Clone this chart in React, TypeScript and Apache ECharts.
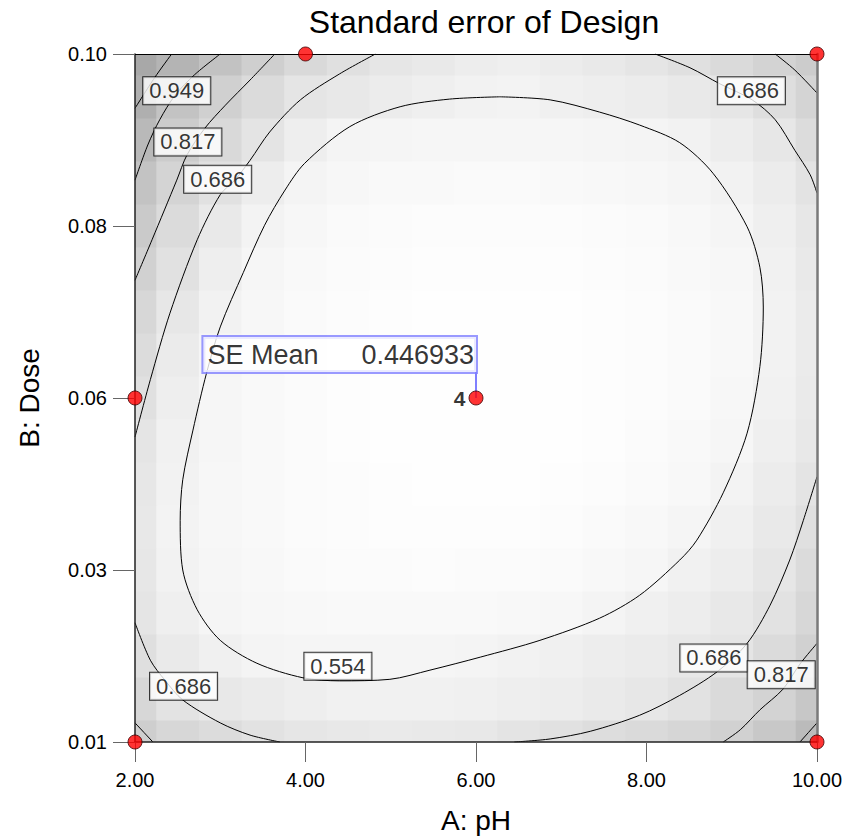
import { useEffect, useRef } from "react";
import * as echarts from "echarts";

// Factor ranges and axis tick labels
const PH_MIN = 2;
const PH_MAX = 10;
const DOSE_LOW = 0.01;
const DOSE_HIGH = 0.1;
const DOSE_TICK_LABELS = ["0.01", "0.03", "0.06", "0.08", "0.10"];

// Design runs [pH, dose]
const DESIGN_POINTS = [
  [2, 0.01],
  [4, 0.1],
  [10, 0.1],
  [2, 0.055],
  [6, 0.055],
  [10, 0.01],
];
const CENTER_POINT = [6, 0.055];
const CENTER_REPLICATES = 4;
const SE_MEAN_AT_CENTER = 0.446933;
const SE_FLAG_TOP_DOSE = 0.0584;

// Standard error sampled on a grid (rows: top dose -> bottom dose, cols: pH 2 -> 10)
const GRID_PH = [2, 2.5, 3, 3.5, 4, 4.5, 5, 5.5, 6, 6.5, 7, 7.5, 8, 8.5, 9, 9.5, 10];
const GRID_CODED_DOSE = [1, 0.875, 0.75, 0.625, 0.5, 0.375, 0.25, 0.125, 0, -0.125, -0.25, -0.375, -0.5, -0.625, -0.75, -0.875, -1];
const SE_GRID = [
  [1.18, 1.065, 0.949, 0.847, 0.777, 0.721, 0.676, 0.65, 0.624, 0.6, 0.628, 0.655, 0.681, 0.723, 0.77, 0.817, 0.87],
  [1.11, 0.941, 0.846, 0.762, 0.685, 0.657, 0.628, 0.599, 0.57, 0.556, 0.587, 0.61, 0.633, 0.655, 0.678, 0.738, 0.81],
  [1.022, 0.872, 0.772, 0.689, 0.608, 0.548, 0.54, 0.535, 0.53, 0.53, 0.533, 0.538, 0.546, 0.572, 0.621, 0.67, 0.755],
  [0.945, 0.813, 0.713, 0.616, 0.548, 0.52, 0.505, 0.497, 0.495, 0.495, 0.5, 0.51, 0.525, 0.542, 0.572, 0.631, 0.699],
  [0.888, 0.761, 0.651, 0.558, 0.52, 0.495, 0.48, 0.472, 0.47, 0.47, 0.474, 0.482, 0.495, 0.515, 0.54, 0.6, 0.67],
  [0.832, 0.71, 0.609, 0.535, 0.505, 0.482, 0.468, 0.46, 0.457, 0.457, 0.46, 0.467, 0.48, 0.497, 0.522, 0.578, 0.65],
  [0.79, 0.669, 0.568, 0.52, 0.495, 0.475, 0.462, 0.454, 0.45, 0.45, 0.453, 0.46, 0.472, 0.49, 0.515, 0.572, 0.638],
  [0.754, 0.637, 0.545, 0.508, 0.485, 0.468, 0.457, 0.45, 0.447, 0.448, 0.451, 0.458, 0.47, 0.488, 0.515, 0.574, 0.636],
  [0.719, 0.609, 0.535, 0.5, 0.478, 0.463, 0.453, 0.448, 0.447, 0.448, 0.452, 0.46, 0.472, 0.492, 0.525, 0.584, 0.645],
  [0.684, 0.585, 0.528, 0.497, 0.477, 0.463, 0.454, 0.449, 0.448, 0.45, 0.455, 0.464, 0.478, 0.5, 0.535, 0.6, 0.663],
  [0.67, 0.566, 0.525, 0.498, 0.48, 0.466, 0.458, 0.453, 0.452, 0.455, 0.461, 0.472, 0.49, 0.515, 0.562, 0.627, 0.69],
  [0.66, 0.56, 0.525, 0.5, 0.484, 0.472, 0.465, 0.461, 0.461, 0.465, 0.473, 0.487, 0.508, 0.538, 0.592, 0.65, 0.725],
  [0.668, 0.567, 0.53, 0.508, 0.493, 0.483, 0.477, 0.475, 0.476, 0.481, 0.492, 0.51, 0.535, 0.577, 0.625, 0.673, 0.759],
  [0.68, 0.597, 0.545, 0.525, 0.513, 0.505, 0.5, 0.499, 0.501, 0.507, 0.518, 0.55, 0.586, 0.622, 0.658, 0.705, 0.793],
  [0.729, 0.646, 0.588, 0.55, 0.544, 0.541, 0.541, 0.545, 0.552, 0.572, 0.595, 0.618, 0.64, 0.663, 0.685, 0.759, 0.838],
  [0.786, 0.696, 0.662, 0.64, 0.615, 0.585, 0.58, 0.585, 0.595, 0.608, 0.625, 0.645, 0.668, 0.708, 0.764, 0.82, 0.909],
  [0.86, 0.792, 0.748, 0.704, 0.677, 0.66, 0.646, 0.65, 0.662, 0.69, 0.716, 0.742, 0.769, 0.796, 0.832, 0.905, 1.0],
];

// Contour paths, [pH, dose]
const CONTOUR_0554 = [
  [6.28, 0.0944], [6.87, 0.094], [7.45, 0.0924], [7.92, 0.0907], [8.39, 0.0884], [8.78, 0.0844],
  [9.18, 0.0774], [9.33, 0.0721], [9.37, 0.0669], [9.33, 0.0591], [9.18, 0.0504], [8.9, 0.0426],
  [8.59, 0.0364], [8.39, 0.0338], [7.92, 0.0292], [7.45, 0.0262], [6.75, 0.0233], [6.05, 0.0211],
  [5.46, 0.0194], [4.99, 0.0182], [4.4, 0.018], [3.97, 0.0184], [3.43, 0.0203], [3.0, 0.0233],
  [2.73, 0.0273], [2.56, 0.0325], [2.53, 0.039], [2.56, 0.0443], [2.68, 0.0508], [2.84, 0.0583],
  [3.0, 0.0643], [3.27, 0.0714], [3.52, 0.0776], [3.76, 0.0822], [3.99, 0.0857], [4.52, 0.0905],
  [5.11, 0.0931], [5.69, 0.0941], [6.28, 0.0944],
];
const CONTOUR_0686_TOP_LEFT = [
  [4.82, 0.1], [4.4, 0.0974], [3.94, 0.094], [3.58, 0.0898], [3.35, 0.0861], [3.17, 0.0835],
  [3.0, 0.0816], [2.73, 0.0757], [2.41, 0.0661], [2.18, 0.0574], [2.0, 0.0499],
];
const CONTOUR_0686_TOP_RIGHT = [
  [8.1, 0.1], [8.51, 0.0982], [8.86, 0.0961], [9.24, 0.094], [9.51, 0.0914], [9.74, 0.0874],
  [9.92, 0.0842], [10.0, 0.0818],
];
const CONTOUR_0686_BOTTOM_RIGHT = [
  [10.0, 0.0447], [9.84, 0.039], [9.68, 0.0338], [9.45, 0.0279], [9.18, 0.0229], [8.83, 0.0192],
  [8.39, 0.0161], [7.92, 0.0135], [7.34, 0.0114], [6.87, 0.0104], [6.45, 0.01],
];
const CONTOUR_0686_BOTTOM_LEFT = [
  [2.0, 0.0256], [2.18, 0.0207], [2.35, 0.0181], [2.56, 0.0155], [3.0, 0.0125], [3.35, 0.0109], [3.7, 0.01],
];
const CONTOUR_0817_TOP_LEFT = [
  [3.64, 0.1], [3.35, 0.0966], [3.06, 0.0933], [2.82, 0.0903], [2.61, 0.0868], [2.49, 0.0835],
  [2.2, 0.0757], [2.0, 0.0704],
];
const CONTOUR_0817_TOP_RIGHT = [[9.51, 0.1], [9.74, 0.0979], [10.0, 0.0949]];
const CONTOUR_0817_BOTTOM_RIGHT = [
  [10.0, 0.0229], [9.8, 0.0202], [9.6, 0.0169], [9.33, 0.0142], [9.1, 0.0116], [8.9, 0.01],
];
const CONTOUR_0817_BOTTOM_LEFT = [[2.0, 0.0125], [2.21, 0.01]];
const CONTOUR_0949_TOP_LEFT = [
  [3.0, 0.1], [2.7, 0.0973], [2.47, 0.0946], [2.29, 0.0914], [2.15, 0.0881], [2.0, 0.0835],
];
const CONTOUR_0949_BOTTOM_RIGHT = [[10.0, 0.0125], [9.8, 0.01]];
const CONTOUR_1080_TOP_LEFT = [[2.43, 0.1], [2.23, 0.0969], [2.0, 0.0929]];

const CONTOUR_PATHS = [
  CONTOUR_0554,
  CONTOUR_0686_TOP_LEFT,
  CONTOUR_0686_TOP_RIGHT,
  CONTOUR_0686_BOTTOM_RIGHT,
  CONTOUR_0686_BOTTOM_LEFT,
  CONTOUR_0817_TOP_LEFT,
  CONTOUR_0817_TOP_RIGHT,
  CONTOUR_0817_BOTTOM_RIGHT,
  CONTOUR_0817_BOTTOM_LEFT,
  CONTOUR_0949_TOP_LEFT,
  CONTOUR_0949_BOTTOM_RIGHT,
  CONTOUR_1080_TOP_LEFT,
];

// Contour level labels, [pH, dose, text]
const CONTOUR_LABELS: [number, number, string][] = [
  [2.49, 0.0952, "0.949"],
  [2.62, 0.0885, "0.817"],
  [2.97, 0.0836, "0.686"],
  [9.23, 0.0952, "0.686"],
  [2.57, 0.0173, "0.686"],
  [4.38, 0.0199, "0.554"],
  [8.79, 0.021, "0.686"],
  [9.58, 0.0188, "0.817"],
];

const FONT = "'Liberation Sans', Arial, Helvetica, sans-serif";

const toCoded = (d: number) =>
  (d - (DOSE_LOW + DOSE_HIGH) / 2) / ((DOSE_HIGH - DOSE_LOW) / 2);

export default function App() {
  const ref = useRef<HTMLDivElement>(null);

  useEffect(() => {
    if (!ref.current) return;
    const chart = echarts.init(ref.current, undefined, { renderer: "svg" });

    const bgData: number[][] = [];
    SE_GRID.forEach((row, r) =>
      row.forEach((se, c) => bgData.push([GRID_PH[c], GRID_CODED_DOSE[r], se]))
    );

    const contourSeries = CONTOUR_PATHS.map((path) => ({
      type: "line",
      data: path.map(([p, d]) => [p, toCoded(d)]),
      symbol: "none",
      smooth: 0.3,
      silent: true,
      clip: true,
      z: 3,
      lineStyle: { color: "#000", width: 1 },
    }));

    const option: any = {
      animation: false,
      textStyle: { fontFamily: FONT },
      grid: { left: 135, top: 54, right: 39, bottom: 97 },
      visualMap: {
        show: false,
        type: "continuous",
        seriesIndex: 0,
        dimension: 2,
        min: 0.44,
        max: 1.2,
        inRange: { color: ["#ffffff", "#ececec", "#d3d3d3", "#bababa", "#a6a6a6"] },
      },
      graphic: [
        {
          type: "text",
          x: 484,
          y: 22,
          style: {
            text: "Standard error of Design",
            font: `32px ${FONT}`,
            fill: "#000",
            align: "center",
            verticalAlign: "middle",
          },
        },
      ],
      xAxis: [
        {
          type: "value",
          min: PH_MIN,
          max: PH_MAX,
          interval: 2,
          z: 5,
          name: "A: pH",
          nameLocation: "middle",
          nameGap: 64,
          nameTextStyle: { fontSize: 28, color: "#000", fontFamily: FONT },
          axisLine: { show: true, onZero: false, lineStyle: { color: "#222", width: 1.5 } },
          axisTick: { show: true, length: 20, lineStyle: { color: "#666" } },
          axisLabel: {
            fontSize: 20,
            color: "#000",
            margin: 28,
            formatter: (v: number) => v.toFixed(2),
          },
          splitLine: { show: false },
        },
        {
          type: "value",
          position: "top",
          min: PH_MIN,
          max: PH_MAX,
          z: 5,
          axisLine: { show: true, onZero: false, lineStyle: { color: "#000", width: 1 } },
          axisTick: { show: false },
          axisLabel: { show: false },
          splitLine: { show: false },
        },
      ],
      yAxis: [
        {
          type: "value",
          min: -1,
          max: 1,
          interval: 0.5,
          z: 5,
          name: "B: Dose",
          nameLocation: "middle",
          nameGap: 92,
          nameTextStyle: { fontSize: 28, color: "#000", fontFamily: FONT },
          axisLine: { show: true, onZero: false, lineStyle: { color: "#222", width: 1.5 } },
          axisTick: { show: true, length: 22, lineStyle: { color: "#666" } },
          axisLabel: {
            fontSize: 20,
            color: "#000",
            margin: 28,
            formatter: (v: number) => DOSE_TICK_LABELS[Math.round((v + 1) / 0.5)] ?? "",
          },
          splitLine: { show: false },
        },
        {
          type: "value",
          position: "right",
          min: -1,
          max: 1,
          z: 5,
          axisLine: { show: true, onZero: false, lineStyle: { color: "#7a7a7a", width: 2.5 } },
          axisTick: { show: false },
          axisLabel: { show: false },
          splitLine: { show: false },
        },
      ],
      series: [
        {
          type: "custom",
          data: bgData,
          clip: true,
          silent: true,
          z: 1,
          encode: { x: 0, y: 1 },
          renderItem: (_params: any, api: any) => {
            const c = api.coord([api.value(0), api.value(1)]);
            const s = api.size([0.5, 0.125]);
            return {
              type: "rect",
              shape: {
                x: c[0] - s[0] / 2,
                y: c[1] - s[1] / 2,
                width: s[0] + 0.8,
                height: s[1] + 0.8,
              },
              style: { fill: api.visual("color") },
            };
          },
        },
        ...contourSeries,
        {
          type: "scatter",
          data: CONTOUR_LABELS.map(([p, d, t]) => [p, toCoded(d), t]),
          symbolSize: 1,
          silent: true,
          z: 4,
          itemStyle: { color: "rgba(0,0,0,0)" },
          label: {
            show: true,
            position: "inside",
            formatter: (p: any) => p.value[2],
            fontSize: 22,
            lineHeight: 23,
            color: "#000",
            fontFamily: FONT,
            backgroundColor: "#fff",
            borderColor: "#000",
            borderWidth: 1,
            padding: [2, 6, 2, 6],
          },
        },
        {
          type: "line",
          data: [
            [CENTER_POINT[0], toCoded(CENTER_POINT[1])],
            [CENTER_POINT[0], toCoded(SE_FLAG_TOP_DOSE)],
          ],
          symbol: "none",
          silent: true,
          z: 6,
          lineStyle: { color: "#7f7fff", width: 2 },
        },
        {
          type: "scatter",
          data: [[CENTER_POINT[0], toCoded(SE_FLAG_TOP_DOSE)]],
          symbolSize: 1,
          silent: true,
          z: 7,
          itemStyle: { color: "rgba(0,0,0,0)" },
          label: {
            show: true,
            position: [0.5, 0.5],
            align: "right",
            verticalAlign: "bottom",
            formatter: `{a|SE Mean}{b|${SE_MEAN_AT_CENTER.toFixed(6)}}`,
            backgroundColor: "#fff",
            borderColor: "#7f7fff",
            borderWidth: 2,
            padding: [2, 2, 2, 4],
            rich: {
              a: { fontSize: 27, lineHeight: 31, width: 154, align: "left", color: "#000", fontFamily: FONT },
              b: { fontSize: 27, lineHeight: 31, align: "left", color: "#000", fontFamily: FONT },
            },
          },
        },
        {
          type: "scatter",
          data: DESIGN_POINTS.map(([p, d]) => {
            const isCenter = p === CENTER_POINT[0] && d === CENTER_POINT[1];
            return {
              value: [p, toCoded(d)],
              label: isCenter
                ? {
                    show: true,
                    position: "left",
                    distance: 3,
                    formatter: String(CENTER_REPLICATES),
                    fontSize: 21,
                    fontWeight: "bold",
                    color: "#000",
                    fontFamily: FONT,
                  }
                : { show: false },
            };
          }),
          symbol: "circle",
          symbolSize: 14,
          silent: true,
          clip: false,
          z: 8,
          itemStyle: { color: "#ff0000", borderColor: "#3a0000", borderWidth: 1 },
        },
      ],
    };

    chart.setOption(option);
    return () => chart.dispose();
  }, []);

  return (
    <div
      ref={ref}
      style={{ position: "absolute", left: 0, top: 0, width: 856, height: 839, background: "#fff" }}
    />
  );
}
